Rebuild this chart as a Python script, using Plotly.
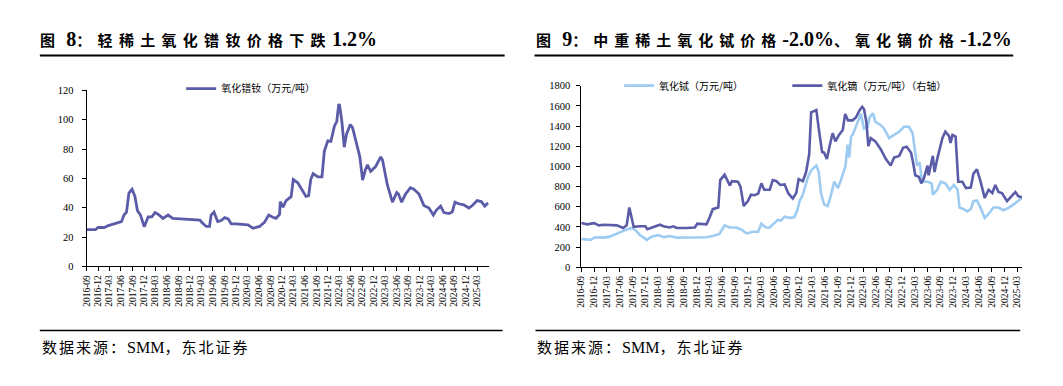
import plotly.graph_objects as go

# ---------------- data ----------------
QUARTER_LABELS = [
    "2016-09", "2016-12", "2017-03", "2017-06", "2017-09", "2017-12", "2018-03", "2018-06",
    "2018-09", "2018-12", "2019-03", "2019-06", "2019-09", "2019-12", "2020-03", "2020-06",
    "2020-09", "2020-12", "2021-03", "2021-06", "2021-09", "2021-12", "2022-03", "2022-06",
    "2022-09", "2022-12", "2023-03", "2023-06", "2023-09", "2023-12", "2024-03", "2024-06",
    "2024-09", "2024-12", "2025-03",
]

PRND_DATES = [
    "2016-09-01", "2016-11-10", "2016-12-01", "2017-01-20", "2017-02-20", "2017-04-15", "2017-06-05",
    "2017-06-25", "2017-07-15", "2017-08-03", "2017-08-28", "2017-09-20", "2017-10-10", "2017-11-03",
    "2017-12-03", "2018-01-03", "2018-02-01", "2018-02-27", "2018-03-25", "2018-05-01", "2018-06-10",
    "2018-07-18", "2018-10-05", "2018-12-25", "2019-02-18", "2019-03-12", "2019-04-10", "2019-05-06",
    "2019-05-18", "2019-06-10", "2019-07-10", "2019-08-06", "2019-09-03", "2019-10-01", "2019-10-25",
    "2019-12-03", "2020-01-28", "2020-03-06", "2020-04-15", "2020-06-06", "2020-07-15", "2020-08-18",
    "2020-09-20", "2020-10-15", "2020-11-12", "2020-11-18", "2020-12-10", "2021-01-03", "2021-02-12",
    "2021-03-01", "2021-04-06", "2021-05-15", "2021-06-10", "2021-07-01", "2021-07-18", "2021-08-06",
    "2021-09-12", "2021-10-15", "2021-11-03", "2021-12-01", "2021-12-25", "2022-01-22", "2022-02-10",
    "2022-02-25", "2022-03-04", "2022-03-22", "2022-04-10", "2022-04-28", "2022-05-28", "2022-06-15",
    "2022-07-10", "2022-08-12", "2022-09-03", "2022-09-25", "2022-10-12", "2022-11-06", "2022-12-15",
    "2023-01-25", "2023-02-08", "2023-03-18", "2023-04-28", "2023-06-01", "2023-06-15", "2023-07-10",
    "2023-08-10", "2023-09-18", "2023-10-15", "2023-11-25", "2024-01-03", "2024-02-12", "2024-03-18",
    "2024-04-10", "2024-05-15", "2024-06-10", "2024-07-18", "2024-08-15", "2024-09-06", "2024-10-06",
    "2024-11-15", "2024-12-25", "2025-01-22", "2025-03-01", "2025-04-03", "2025-05-01", "2025-05-28",
]
PRND_VALUES = [
    25.0, 25.0, 26.5, 26.5, 27.8, 29.0, 30.5,
    35.0, 37.0, 50.0, 52.6, 47.7, 38.0, 35.0,
    27.0, 33.8, 33.8, 36.7, 35.4, 32.7, 35.0,
    32.7, 32.3, 31.6, 31.6, 29.4, 27.2, 27.2,
    35.0, 37.0, 30.5, 31.2, 33.2, 32.3, 29.0,
    29.0, 28.3, 28.3, 26.0, 27.2, 30.0, 35.0,
    33.5, 32.7, 35.4, 44.2, 40.4, 44.9, 47.5,
    59.2, 57.0, 51.5, 47.7, 48.2, 59.2, 63.2,
    61.0, 61.0, 78.7, 85.7, 85.3, 95.7, 99.0,
    110.5, 110.0, 99.0, 81.3, 90.2, 96.8, 94.6,
    85.7, 74.7, 58.8, 65.9, 69.2, 64.8, 68.1,
    74.7, 72.5, 55.9, 43.8, 50.4, 49.3, 43.8,
    49.3, 53.7, 52.6, 49.3, 41.5, 39.8, 35.0,
    38.2, 41.1, 36.7, 36.0, 37.1, 43.8, 42.7,
    42.0, 39.8, 41.5, 44.9, 44.2, 41.1, 43.3,
]

TB_DATES = [
    "2016-09-01", "2016-11-07", "2016-12-09", "2017-02-09", "2017-03-23", "2017-04-18", "2017-05-23",
    "2017-07-09", "2017-08-26", "2017-09-21", "2017-10-23", "2017-12-12", "2018-01-15", "2018-03-04",
    "2018-04-09", "2018-05-23", "2018-07-12", "2018-09-21", "2018-12-01", "2019-02-09", "2019-03-26",
    "2019-05-12", "2019-06-18", "2019-07-23", "2019-09-09", "2019-10-15", "2019-11-21", "2020-01-06",
    "2020-02-12", "2020-03-06", "2020-04-06", "2020-05-04", "2020-06-06", "2020-07-01", "2020-07-23",
    "2020-08-18", "2020-09-21", "2020-10-26", "2020-11-15", "2020-12-04", "2020-12-26", "2021-02-01",
    "2021-02-23", "2021-04-01", "2021-04-18", "2021-05-04", "2021-05-26", "2021-06-21", "2021-07-15",
    "2021-08-06", "2021-09-01", "2021-09-23", "2021-10-26", "2021-11-09", "2021-11-21", "2021-12-04",
    "2021-12-15", "2022-01-09", "2022-02-12", "2022-03-06", "2022-04-01", "2022-04-15", "2022-05-09",
    "2022-05-26", "2022-07-04", "2022-07-26", "2022-09-01", "2022-10-06", "2022-11-12", "2022-12-15",
    "2023-01-21", "2023-02-15", "2023-03-04", "2023-03-18", "2023-04-06", "2023-04-23", "2023-06-01",
    "2023-07-01", "2023-07-09", "2023-08-09", "2023-09-04", "2023-10-06", "2023-11-06", "2023-12-06",
    "2024-01-01", "2024-01-15", "2024-02-15", "2024-03-09", "2024-04-04", "2024-04-23", "2024-05-18",
    "2024-06-12", "2024-07-12", "2024-08-09", "2024-09-12", "2024-10-18", "2024-11-23", "2025-01-01",
    "2025-02-04", "2025-03-09", "2025-04-04",
]
TB_VALUES = [
    282, 272, 298, 294, 304, 320, 342,
    368, 390, 368, 320, 272, 304, 320,
    298, 310, 294, 294, 298, 298, 310,
    330, 416, 394, 394, 374, 336, 352,
    352, 432, 394, 394, 438, 470, 464,
    502, 490, 496, 560, 660, 720, 896,
    960, 1008, 944, 736, 624, 608, 720,
    848, 784, 864, 1008, 1216, 1088, 1296,
    1312, 1408, 1520, 1376, 1392, 1488, 1526,
    1440, 1408, 1376, 1280, 1312, 1344, 1392,
    1392, 1328, 1136, 1008, 1040, 848, 848,
    832, 720, 768, 848, 832, 768, 816,
    768, 592, 576, 554, 576, 656, 662,
    592, 490, 528, 592, 592, 566, 592,
    624, 656, 688,
]

DY_DATES = [
    "2016-09-01", "2016-10-12", "2016-12-01", "2017-01-04", "2017-02-09", "2017-03-23", "2017-05-12",
    "2017-06-26", "2017-07-21", "2017-08-09", "2017-08-21", "2017-09-09", "2017-10-23", "2017-12-01",
    "2017-12-15", "2018-01-26", "2018-03-15", "2018-04-09", "2018-05-23", "2018-06-18", "2018-07-12",
    "2018-09-21", "2018-11-18", "2018-12-06", "2019-02-09", "2019-03-04", "2019-03-26", "2019-05-04",
    "2019-05-18", "2019-06-18", "2019-07-12", "2019-07-26", "2019-08-09", "2019-09-21", "2019-10-09",
    "2019-11-01", "2019-12-01", "2019-12-23", "2020-01-18", "2020-02-12", "2020-03-06", "2020-03-26",
    "2020-05-04", "2020-05-26", "2020-06-21", "2020-07-18", "2020-08-18", "2020-09-12", "2020-10-15",
    "2020-11-09", "2020-11-26", "2020-12-26", "2021-01-18", "2021-02-09", "2021-02-23", "2021-04-01",
    "2021-04-21", "2021-05-12", "2021-05-26", "2021-06-15", "2021-07-04", "2021-07-26", "2021-08-15",
    "2021-09-09", "2021-10-06", "2021-10-23", "2021-11-12", "2021-12-15", "2022-01-09", "2022-02-01",
    "2022-02-21", "2022-03-06", "2022-03-23", "2022-04-06", "2022-04-23", "2022-05-26", "2022-07-04",
    "2022-08-09", "2022-09-12", "2022-10-06", "2022-11-12", "2022-12-09", "2023-01-04", "2023-02-04",
    "2023-02-18", "2023-03-06", "2023-04-01", "2023-04-18", "2023-05-06", "2023-06-01", "2023-06-09",
    "2023-07-09", "2023-07-21", "2023-08-09", "2023-09-15", "2023-10-06", "2023-11-01", "2023-11-12",
    "2023-11-26", "2023-12-18", "2024-01-06", "2024-02-04", "2024-03-01", "2024-04-04", "2024-04-23",
    "2024-05-18", "2024-06-12", "2024-07-12", "2024-08-09", "2024-09-04", "2024-09-26", "2024-10-18",
    "2024-11-12", "2024-12-18", "2025-01-18", "2025-02-15", "2025-03-09", "2025-04-04",
]
DY_VALUES = [
    123.0, 121.0, 123.0, 119.3, 120.3, 119.3, 119.3,
    115.0, 119.3, 148.7, 138.0, 116.7, 117.7, 117.7,
    113.0, 116.7, 120.3, 117.7, 115.7, 117.7, 115.0,
    115.0, 115.7, 122.0, 121.0, 132.7, 146.0, 148.7,
    194.0, 203.0, 191.3, 185.0, 192.3, 191.3, 183.3,
    151.3, 159.3, 170.0, 169.0, 171.7, 188.7, 178.0,
    178.0, 194.0, 192.3, 186.0, 187.0, 172.7, 163.7,
    172.7, 195.7, 192.3, 207.3, 236.7, 306.0, 309.7,
    274.0, 240.3, 239.3, 228.7, 250.0, 271.3, 258.0,
    268.7, 276.7, 303.3, 292.7, 292.7, 298.0, 308.7,
    315.0, 311.3, 290.0, 250.0, 263.3, 258.0, 244.7,
    228.7, 218.0, 231.3, 234.0, 247.3, 249.0, 239.3,
    223.3, 202.0, 199.3, 188.7, 196.7, 218.0, 202.0,
    234.0, 207.3, 228.7, 263.3, 274.0, 267.0, 255.3,
    268.7, 266.0, 191.3, 191.3, 180.7, 181.7, 204.7,
    211.7, 192.3, 164.7, 178.0, 172.7, 186.0, 174.3,
    172.7, 159.3, 167.3, 174.3, 167.3, 165.7,
]

# ---------------- layout helpers ----------------
W, H = 1063, 386
DARK = "#5B5CA8"
LIGHT = "#9DCBF2"
SERIF_CJK = "Liberation Serif, Noto Sans CJK SC"
CJK = "Noto Sans CJK SC, Liberation Serif"


def px(x):
    return x / W


def py(y):
    return 1 - y / H


tickvals = [q + "-01" for q in QUARTER_LABELS]

fig = go.Figure()

fig.add_trace(go.Scatter(
    x=PRND_DATES, y=PRND_VALUES, mode="lines", name="氧化镨钕（万元/吨）",
    line=dict(color=DARK, width=2.8), xaxis="x", yaxis="y", legend="legend",
))
fig.add_trace(go.Scatter(
    x=TB_DATES, y=TB_VALUES, mode="lines", name="氧化铽（万元/吨）",
    line=dict(color=LIGHT, width=2.6), xaxis="x2", yaxis="y2", legend="legend2",
))
fig.add_trace(go.Scatter(
    x=DY_DATES, y=DY_VALUES, mode="lines", name="氧化镝（万元/吨）（右轴）",
    line=dict(color=DARK, width=2.6), xaxis="x2", yaxis="y3", legend="legend3",
))

axis_common = dict(
    showline=True, linecolor="black", linewidth=1, ticks="outside", ticklen=4,
    tickcolor="black", tickwidth=1, showgrid=False, zeroline=False,
    tickfont=dict(family="Liberation Serif", size=10.5, color="black"),
)
xaxis_common = dict(axis_common)
xaxis_common.update(
    type="date", tickmode="array", tickvals=tickvals, ticktext=QUARTER_LABELS,
    tickangle=-90, tickfont=dict(family="Liberation Serif", size=9.5, color="black"),
)

legend_common = dict(
    bgcolor="rgba(0,0,0,0)", borderwidth=0, font=dict(family=CJK, size=10, color="black"),
    xanchor="left", yanchor="middle", itemwidth=30, tracegroupgap=0,
)

fig.update_layout(
    width=W, height=H, margin=dict(l=0, r=0, t=0, b=0),
    paper_bgcolor="white", plot_bgcolor="white",
    xaxis=dict(xaxis_common, domain=[px(82), px(486)], anchor="y",
               range=["2016-09-01", "2025-06-01"]),
    yaxis=dict(axis_common, domain=[py(269), py(88)], anchor="x",
               range=[0, 120], dtick=20, tickmode="linear", tick0=0, ticklabelstandoff=6),
    xaxis2=dict(xaxis_common, domain=[px(579), px(1022)], anchor="y2",
                range=["2016-09-01", "2025-04-05"]),
    yaxis2=dict(axis_common, domain=[py(270), py(83)], anchor="x2",
                range=[0, 1800], dtick=200, tickmode="linear", tick0=0, ticklabelstandoff=4),
    yaxis3=dict(overlaying="y2", side="right", anchor="x2", range=[50, 350], visible=False,
                showgrid=False, zeroline=False),
    showlegend=True,
    legend=dict(legend_common, x=px(177), y=py(86)),
    legend2=dict(legend_common, x=px(617), y=py(83)),
    legend3=dict(legend_common, x=px(786), y=py(83)),
)

# titles
title_left = ('<b><span style="font-size:15px;letter-spacing:6.3px">图</span>'
              '<span style="font-size:20px"> 8</span>'
              '<span style="font-size:15px;letter-spacing:6.3px">：轻稀土氧化镨钕价格下跌</span>'
              '<span style="font-size:20px">1.2%</span></b>')
title_right = ('<b><span style="font-size:15px;letter-spacing:6.3px">图</span>'
               '<span style="font-size:20px"> 9</span>'
               '<span style="font-size:15px;letter-spacing:6px">：中重稀土氧化铽价格</span>'
               '<span style="font-size:20px">-2.0%</span>'
               '<span style="font-size:15px;letter-spacing:6px">、氧化镝价格</span>'
               '<span style="font-size:20px">-1.2%</span></b>')
source = ('<span style="letter-spacing:2px">数据来源：</span>'
          '<span style="font-size:16px">SMM</span>'
          '<span style="letter-spacing:2px">，东北证券</span>')

annos = [
    dict(text=title_left, x=px(33), y=py(35)),
    dict(text=title_right, x=px(531), y=py(35)),
    dict(text=source, x=px(35), y=py(353), font=dict(family=SERIF_CJK, size=15, color="black")),
    dict(text=source, x=px(533), y=py(353), font=dict(family=SERIF_CJK, size=15, color="black")),
]
for a in annos:
    base = dict(xref="paper", yref="paper", xanchor="left", yanchor="middle", showarrow=False,
                font=dict(family=SERIF_CJK, size=16, color="black"))
    base.update(a)
    fig.add_annotation(**base)

# title underlines and footer rules
for x0, x1, y, w in [(35, 502, 52, 2.2), (532, 1013, 52, 2.2), (35, 500, 335, 1.5), (533, 1020, 335, 1.5)]:
    fig.add_shape(type="line", xref="paper", yref="paper", x0=px(x0), x1=px(x1), y0=py(y), y1=py(y),
                  line=dict(color="black", width=w))

fig.write_html("out.html", config={"displayModeBar": False},
               post_script="document.body.style.margin='0px';")
